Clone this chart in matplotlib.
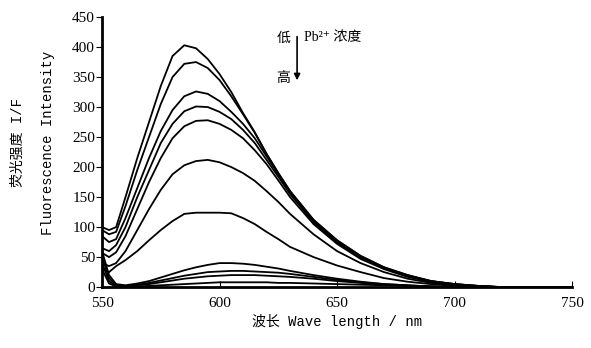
import numpy as np
import matplotlib.pyplot as plt

plt.rcParams['font.family'] = ['Liberation Serif', 'DejaVu Sans', 'Noto Sans CJK SC']

# wavelength grid (nm)
wl = [550, 553, 556, 560, 565, 570, 575, 580, 585, 590, 595, 600, 605, 610,
      615, 620, 625, 630, 640, 650, 660, 670, 680, 690, 700, 710, 720, 750]

# fluorescence intensity, low -> high Pb2+ concentration
c1 = [100, 95, 100, 150, 215, 275, 335, 385, 403, 398, 380, 355, 325, 290,
      258, 222, 190, 160, 112, 78, 52, 33, 20, 10, 5, 2, 0, 0]
c2 = [95, 88, 92, 135, 195, 250, 305, 350, 372, 375, 365, 345, 318, 288,
      257, 222, 190, 160, 112, 78, 52, 33, 20, 10, 5, 2, 0, 0]
c3 = [85, 75, 80, 115, 165, 215, 260, 295, 318, 326, 322, 310, 292, 272,
      248, 218, 188, 158, 110, 76, 50, 32, 19, 10, 5, 2, 0, 0]
c4 = [65, 60, 70, 100, 150, 195, 240, 272, 293, 301, 300, 292, 280, 262,
      240, 212, 184, 155, 108, 74, 49, 31, 18, 9, 4, 1, 0, 0]
c5 = [57, 50, 58, 85, 130, 175, 215, 248, 268, 277, 278, 272, 262, 248,
      228, 205, 178, 150, 105, 72, 47, 30, 17, 9, 4, 1, 0, 0]
c6 = [40, 35, 40, 60, 95, 130, 162, 188, 203, 210, 212, 208, 200, 190,
      177, 160, 142, 122, 88, 60, 40, 25, 14, 7, 3, 1, 0, 0]
c7 = [30, 25, 35, 45, 60, 78, 95, 110, 122, 124, 124, 124, 123, 115,
      105, 92, 80, 67, 50, 36, 25, 15, 9, 5, 2, 1, 0, 0]
c8 = [60, 20, 5, 3, 6, 10, 16, 22, 28, 33, 37, 40, 40, 39,
      37, 34, 31, 27, 20, 14, 9, 5, 3, 1, 0, 0, 0, 0]
c9 = [50, 15, 3, 2, 4, 7, 11, 15, 19, 22, 25, 26, 27, 27,
      26, 25, 24, 22, 17, 12, 8, 5, 3, 1, 0, 0, 0, 0]
c10 = [40, 10, 2, 1, 3, 5, 8, 11, 14, 16, 18, 19, 20, 20,
       20, 19, 18, 17, 14, 10, 7, 4, 2, 1, 0, 0, 0, 0]
c11 = [30, 6, 1, 0, 1, 2, 3, 4, 5, 6, 7, 8, 8, 8,
       8, 8, 7, 7, 6, 5, 4, 3, 2, 1, 0, 0, 0, 0]

curves = [c1, c2, c3, c4, c5, c6, c7, c8, c9, c10, c11]

fig = plt.figure(figsize=(5.91, 3.48), dpi=100)
ax = fig.add_axes([0.1726, 0.175, 0.7954, 0.776])

for c in curves:
    ax.plot(wl, c, color='black', lw=1.3)

ax.set_xlim(550, 750)
ax.set_ylim(0, 450)
ax.set_xticks(range(550, 751, 50))
ax.set_yticks(range(0, 451, 50))
ax.spines['top'].set_visible(False)
ax.spines['right'].set_visible(False)
ax.spines['left'].set_linewidth(2)
ax.spines['bottom'].set_linewidth(2)
ax.tick_params(axis='x', direction='in', length=4, labelsize=11, pad=7)
ax.tick_params(axis='y', direction='out', length=4, labelsize=11, pad=1)

lab_font = ['Liberation Mono', 'Noto Sans CJK SC']
ax.set_xlabel('波长 Wave length / nm', family=lab_font, fontsize=10, labelpad=3)
fig.text(0.030, 0.59, '荧光强度 I/F', rotation=90, ha='center', va='center',
         family=lab_font, fontsize=10)
fig.text(0.081, 0.59, 'Fluorescence Intensity', rotation=90, ha='center',
         va='center', family=lab_font, fontsize=10)

# concentration arrow
ax.annotate('', xy=(633, 340), xytext=(633, 422),
            arrowprops=dict(arrowstyle='-|>', color='black', lw=1.2,
                            mutation_scale=9))
ax.text(630, 415, '低', ha='right', va='center', fontsize=10,
        family='Noto Sans CJK SC')
ax.text(630, 348, '高', ha='right', va='center', fontsize=10,
        family='Noto Sans CJK SC')
ax.text(636, 415, 'Pb²⁺ 浓度', ha='left', va='center', fontsize=10)

fig.savefig('out.png', dpi=100)
